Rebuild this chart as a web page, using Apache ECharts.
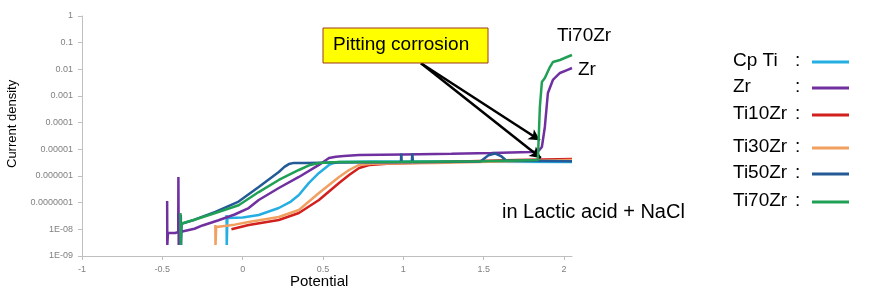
<!DOCTYPE html>
<html>
<head>
<meta charset="utf-8">
<script src="https://cdn.jsdelivr.net/npm/echarts@6/dist/echarts.min.js"></script>
<style>html,body{margin:0;padding:0;background:#fff;}#c{width:878px;height:291px;}</style>
</head>
<body>
<div id="c"></div>
<script>
// ---- data (potential V, current density) ----
const seriesNames = ['Cp Ti', 'Zr', 'Ti10Zr', 'Ti30Zr', 'Ti50Zr', 'Ti70Zr'];
const legendLabels = ['Cp Ti', 'Zr', 'Ti10Zr', 'Ti30Zr', 'Ti50Zr', 'Ti70Zr'];
const seriesColors = ['#25aee2', '#7030a0', '#d2201e', '#f0a060', '#245a96', '#20a055'];
const xTickValues = [-1, -0.5, 0, 0.5, 1, 1.5, 2];
const yTickLabels = ['1E-09', '1E-08', '0.0000001', '0.000001', '0.00001', '0.0001', '0.001', '0.01', '0.1', '1'];

const cpTi = [[-0.1, 3.45e-8], [-0.099, 2.6e-9], [-0.095, 2.66e-8], [0.0, 2.8e-8], [0.1, 3.45e-8], [0.225, 6.3e-8], [0.3, 1.1e-7], [0.35, 1.94e-7], [0.4125, 5.5e-7], [0.475, 1.3e-6], [0.5375, 2.6e-6], [0.57, 3.1e-6], [0.6, 3.35e-6], [0.8, 3.5e-6], [1.5, 3.4e-6], [2.05, 3.35e-6]];
const zr = [[-0.47, 1.15e-7], [-0.469, 2.6e-9], [-0.465, 7.3e-9], [-0.42, 7.3e-9], [-0.401, 7.9e-9], [-0.4, 9.2e-7], [-0.398, 2.6e-9], [-0.39, 7.9e-9], [-0.3, 1.05e-8], [-0.25, 1.4e-8], [-0.15, 2.2e-8], [-0.05, 3.6e-8], [0.0375, 6.3e-8], [0.1, 1.26e-7], [0.225, 3.55e-7], [0.35, 9.2e-7], [0.475, 2.6e-6], [0.5375, 4.7e-6], [0.58, 5.3e-6], [0.63, 5.6e-6], [0.725, 6.1e-6], [1.0, 6.4e-6], [1.3, 6.8e-6], [1.55, 7.3e-6], [1.79, 7.9e-6], [1.8375, 8.3e-6], [1.85, 1.0e-5], [1.8625, 1.22e-5], [1.881, 6.9e-5], [1.9, 1.3e-3], [1.931, 4.0e-3], [1.975, 7.3e-3], [2.019, 9.4e-3], [2.05, 1.12e-2]];
const ti10Zr = [[-0.07, 1.0e-8], [0.0375, 1.45e-8], [0.225, 2.24e-8], [0.35, 4.1e-8], [0.475, 1.26e-7], [0.6, 5.5e-7], [0.6625, 1.09e-6], [0.725, 2.0e-6], [0.7875, 2.6e-6], [0.9, 2.9e-6], [1.3, 3.4e-6], [1.7, 4.0e-6], [2.05, 4.3e-6]];
const ti30Zr = [[-0.17, 1.45e-8], [-0.169, 2.6e-9], [-0.165, 1.22e-8], [-0.05, 1.5e-8], [0.0375, 1.88e-8], [0.225, 2.9e-8], [0.35, 5.3e-8], [0.475, 2.3e-7], [0.6, 9.2e-7], [0.6625, 1.68e-6], [0.725, 2.6e-6], [0.8, 2.9e-6], [1.2, 3.1e-6], [1.6, 3.5e-6], [2.05, 4.0e-6]];
const ti50Zr = [[-0.385, 3.5e-8], [-0.383, 2.6e-9], [-0.38, 1.6e-8], [-0.3, 2.3e-8], [-0.17, 4.5e-8], [-0.025, 1.1e-7], [0.1, 3.87e-7], [0.225, 1.41e-6], [0.26, 2.2e-6], [0.2875, 2.8e-6], [0.319, 3.1e-6], [0.394, 3.07e-6], [0.6, 3.2e-6], [0.985, 3.3e-6], [0.9875, 7.0e-6], [0.99, 3.3e-6], [1.053, 3.3e-6], [1.056, 7.0e-6], [1.06, 3.3e-6], [1.48, 3.5e-6], [1.53, 6.0e-6], [1.57, 7.0e-6], [1.61, 5.5e-6], [1.64, 3.8e-6], [2.05, 3.6e-6]];
const ti70Zr = [[-0.3875, 4.1e-8], [-0.386, 2.6e-9], [-0.383, 1.5e-8], [-0.37, 1.73e-8], [-0.3, 2.3e-8], [-0.17, 4.1e-8], [-0.025, 8.0e-8], [0.1, 2.5e-7], [0.225, 7.1e-7], [0.35, 1.68e-6], [0.42, 2.6e-6], [0.475, 3.07e-6], [0.6, 3.35e-6], [1.0, 3.4e-6], [1.5, 3.6e-6], [1.8375, 4.0e-6], [1.85, 3.87e-4], [1.8625, 3.35e-3], [1.881, 4.7e-3], [1.9125, 1.22e-2], [1.931, 1.88e-2], [1.975, 2.24e-2], [2.019, 2.9e-2], [2.05, 3.45e-2]];
const seriesData = [cpTi, zr, ti10Zr, ti30Zr, ti50Zr, ti70Zr];

// arrows (data coordinates): start and two end points
const arrowStart = [1.11, 1.7e-2];
const arrowEnds = [[1.85, 2.2e-5], [1.856, 4.7e-6]];

const FONT = '"Liberation Sans", Arial, sans-serif';
const chart = echarts.init(document.getElementById('c'), null, {renderer: 'canvas'});

const series = seriesNames.map((n, i) => ({
  name: n, type: 'line', data: seriesData[i], showSymbol: false, symbol: 'none',
  lineStyle: {width: 2.5, color: seriesColors[i]}, itemStyle: {color: seriesColors[i]},
  z: 2 + i
}));
series.push({
  name: 'arrows', type: 'line', data: [], silent: true, z: 20,
  markLine: {
    silent: true, symbol: ['none', 'arrow'], symbolSize: [9, 11],
    label: {show: false},
    lineStyle: {color: '#000', width: 2.5, type: 'solid'},
    emphasis: {disabled: true},
    data: arrowEnds.map(e => [{coord: arrowStart}, {coord: e}])
  }
});

const legendRowsY = [62, 88, 115, 148, 174, 202];
const graphics = [];
legendLabels.forEach((l, i) => {
  graphics.push({type: 'text', left: 733, top: legendRowsY[i] - 11, style: {text: l, font: '19px ' + FONT, fill: '#000'}});
  graphics.push({type: 'text', left: 795, top: legendRowsY[i] - 11, style: {text: ':', font: '19px ' + FONT, fill: '#000'}});
  graphics.push({type: 'line', shape: {x1: 812, y1: legendRowsY[i], x2: 849, y2: legendRowsY[i]}, style: {stroke: seriesColors[i], lineWidth: 3}});
});
graphics.push({type: 'rect', shape: {x: 323, y: 28, width: 165, height: 35}, style: {fill: '#ffff00', stroke: '#9c3b1d', lineWidth: 1}, z: 10});
graphics.push({type: 'text', left: 333, top: 35, z: 11, style: {text: 'Pitting corrosion', font: '19px ' + FONT, fill: '#000'}});
graphics.push({type: 'text', left: 557, top: 26, style: {text: 'Ti70Zr', font: '19px ' + FONT, fill: '#000'}});
graphics.push({type: 'text', left: 578, top: 60, style: {text: 'Zr', font: '19px ' + FONT, fill: '#000'}});
graphics.push({type: 'text', left: 502, top: 202, style: {text: 'in Lactic acid + NaCl', font: '20px ' + FONT, fill: '#000'}});
graphics.push({type: 'text', left: 290, top: 274, style: {text: 'Potential', font: '15px ' + FONT, fill: '#000'}});
graphics.push({type: 'text', x: 6, y: 168, rotation: Math.PI / 2, style: {text: 'Current density', font: '13px ' + FONT, fill: '#000'}});

chart.setOption({
  animation: false,
  backgroundColor: '#fff',
  grid: {left: 82, right: 306, top: 16, bottom: 35},
  xAxis: {
    type: 'value', min: -1, max: 2.05,
    axisLine: {onZero: false, lineStyle: {color: '#bfbfbf', width: 1}},
    axisTick: {show: true, length: 4, lineStyle: {color: '#bfbfbf'}, customValues: xTickValues},
    axisLabel: {customValues: xTickValues, color: '#808080', fontSize: 9, fontFamily: FONT, margin: 9},
    splitLine: {show: false}
  },
  yAxis: {
    type: 'log', logBase: 10, min: 1e-9, max: 1, splitNumber: 9,
    axisLine: {show: true, onZero: false, lineStyle: {color: '#bfbfbf', width: 1}},
    axisTick: {show: true, length: 4, lineStyle: {color: '#bfbfbf'}},
    axisLabel: {color: '#808080', fontSize: 9, fontFamily: FONT, margin: 9,
      formatter: v => { const k = Math.round(Math.log10(v)) + 9; return yTickLabels[k] !== undefined ? yTickLabels[k] : ''; }},
    splitLine: {show: false}
  },
  series: series,
  graphic: graphics
});
</script>
</body>
</html>
